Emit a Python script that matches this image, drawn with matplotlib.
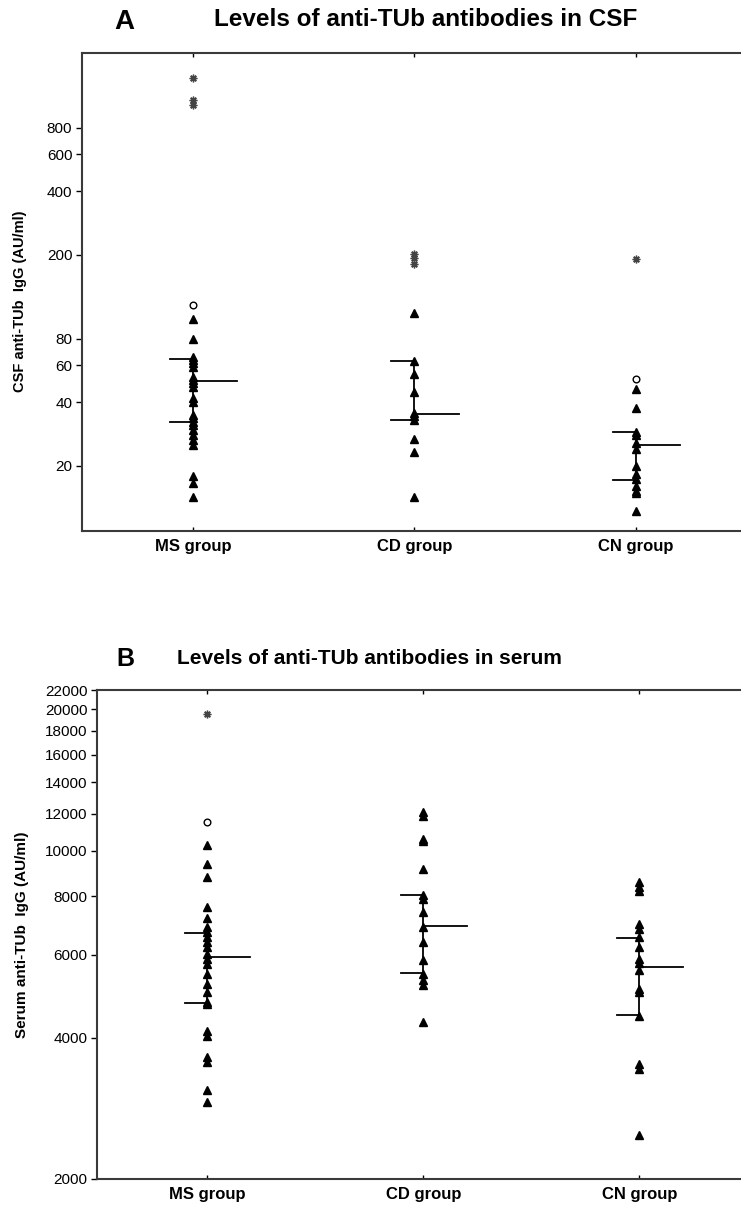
import matplotlib
matplotlib.use("Agg")
import matplotlib.pyplot as plt
from matplotlib.ticker import NullLocator, FixedLocator, FixedFormatter

plt.rcParams['font.family'] = ['Liberation Sans', 'DejaVu Sans']

groups = ["MS group", "CD group", "CN group"]

# panel A: CSF anti-TUb IgG (AU/ml)
csf_tri = [
    [99, 80, 66, 63.6, 61.5, 59, 53, 51, 49.3, 47.5, 42, 40, 35, 33.6, 32.4,
     31.3, 29.6, 28, 26.6, 25.2, 17.9, 16.6, 14.3],
    [106, 63, 54.4, 44.7, 35.5, 34.4, 32.9, 26.8, 23.4, 14.3],
    [46.5, 37.8, 29.0, 28.0, 25.6, 24.1, 19.9, 18.4, 17.4, 16.0, 15.3, 14.9, 12.3],
]
csf_out = [[116], [], [51.8]]
csf_ext = [[1380, 1090, 1030], [203, 193, 182], [191]]
csf_q1 = [32.3, 32.9, 17.2]
csf_med = [50.6, 35.3, 25.2]
csf_q3 = [64.3, 63.1, 28.9]
csf_ticks = [20, 40, 60, 80, 200, 400, 600, 800]

# panel B: serum anti-TUb IgG (AU/ml)
ser_tri = [
    [10270, 9360, 8790, 7590, 7200, 6880, 6710, 6545, 6390, 6235, 6040, 5890,
     5745, 5470, 5210, 5000, 4760, 4720, 4140, 4040, 3630, 3546, 3100, 2924],
    [12070, 11870, 10620, 10500, 9160, 8036, 7900, 7405, 6880, 6390, 5843,
     5470, 5305, 5180, 4315],
    [8580, 8370, 8197, 6995, 6825, 6550, 6235, 5890, 5765, 5560, 5085, 5000,
     4450, 3518, 3434, 2484],
]
ser_out = [[11515], [], []]
ser_ext = [[19560], [], []]
ser_q1 = [4745, 5497, 4460]
ser_med = [5938, 6915, 5650]
ser_q3 = [6690, 8036, 6530]
ser_ticks = [2000, 4000, 6000, 8000, 10000, 12000, 14000, 16000, 18000, 20000, 22000]


def draw_panel(ax, tri, out, ext, q1, med, q3, ticks, ylim, xlim, ylabel, lsize):
    for i in range(3):
        x = i + 1
        ax.plot([x] * len(tri[i]), tri[i], ls='none', marker='^', ms=5.3,
                color='black', mec='black', zorder=3)
        if out[i]:
            ax.plot([x] * len(out[i]), out[i], ls='none', marker='o', ms=4.8,
                    mfc='white', mec='black', mew=1.0, zorder=3)
        if ext[i]:
            ax.plot([x] * len(ext[i]), ext[i], ls='none', marker=(8, 2, 0), ms=5.5,
                    color='#444444', mew=1.0, zorder=3)
        ax.plot([x, x], [q1[i], q3[i]], color='black', lw=1.3, zorder=2)
        ax.plot([x - 0.105, x], [q1[i], q1[i]], color='black', lw=1.3, zorder=2)
        ax.plot([x - 0.105, x], [q3[i], q3[i]], color='black', lw=1.3, zorder=2)
        ax.plot([x, x + 0.2], [med[i], med[i]], color='black', lw=1.3, zorder=2)

    ax.set_yscale('log')
    ax.set_ylim(*ylim)
    ax.set_xlim(*xlim)
    ax.yaxis.set_major_locator(FixedLocator(ticks))
    ax.yaxis.set_major_formatter(FixedFormatter([str(t) for t in ticks]))
    ax.yaxis.set_minor_locator(NullLocator())
    ax.set_xticks([1, 2, 3])
    ax.set_xticklabels(groups, fontweight='bold', fontsize=12)
    ax.tick_params(axis='x', direction='in', length=3, top=True, width=1, pad=6)
    ax.tick_params(axis='y', direction='out', length=4, width=1, labelsize=11, pad=3)
    ax.spines['right'].set_visible(False)
    for s in ['left', 'bottom', 'top']:
        ax.spines[s].set_linewidth(1.5)
        ax.spines[s].set_color('#3a3a3a')
    ax.set_ylabel(ylabel, fontweight='bold', fontsize=lsize)


W, H = 741, 1207
fig = plt.figure(figsize=(W / 100, H / 100), dpi=100)

axA = fig.add_axes([82 / W, (H - 531) / H, (W - 82) / W, 478 / H])
draw_panel(axA, csf_tri, csf_out, csf_ext, csf_q1, csf_med, csf_q3, csf_ticks,
           (9.84, 1811), (0.499, 3.474), "CSF anti-TUb  IgG (AU/ml)", 10.5)
axA.yaxis.set_label_coords(-55 / (W - 82), 0.48)

axB = fig.add_axes([97 / W, (H - 1179) / H, (W - 97) / W, 489 / H])
draw_panel(axB, ser_tri, ser_out, ser_ext, ser_q1, ser_med, ser_q3, ser_ticks,
           (2000, 22000), (0.49, 3.47), "Serum anti-TUb  IgG (AU/ml)", 11)
axB.yaxis.set_label_coords(-68 / (W - 97), 0.5)

fig.text(124 / W, 1 - 22 / H, "A", fontsize=20, fontweight='bold', ha='center', va='center')
fig.text(426 / W, 1 - 20 / H, "Levels of anti-TUb antibodies in CSF", fontsize=17.5,
         fontweight='bold', ha='center', va='center')
fig.text(125 / W, 1 - 659 / H, "B", fontsize=18, fontweight='bold', ha='center', va='center')
fig.text(369 / W, 1 - 659 / H, "Levels of anti-TUb antibodies in serum", fontsize=15,
         fontweight='bold', ha='center', va='center')

fig.savefig("out.png", dpi=100)
